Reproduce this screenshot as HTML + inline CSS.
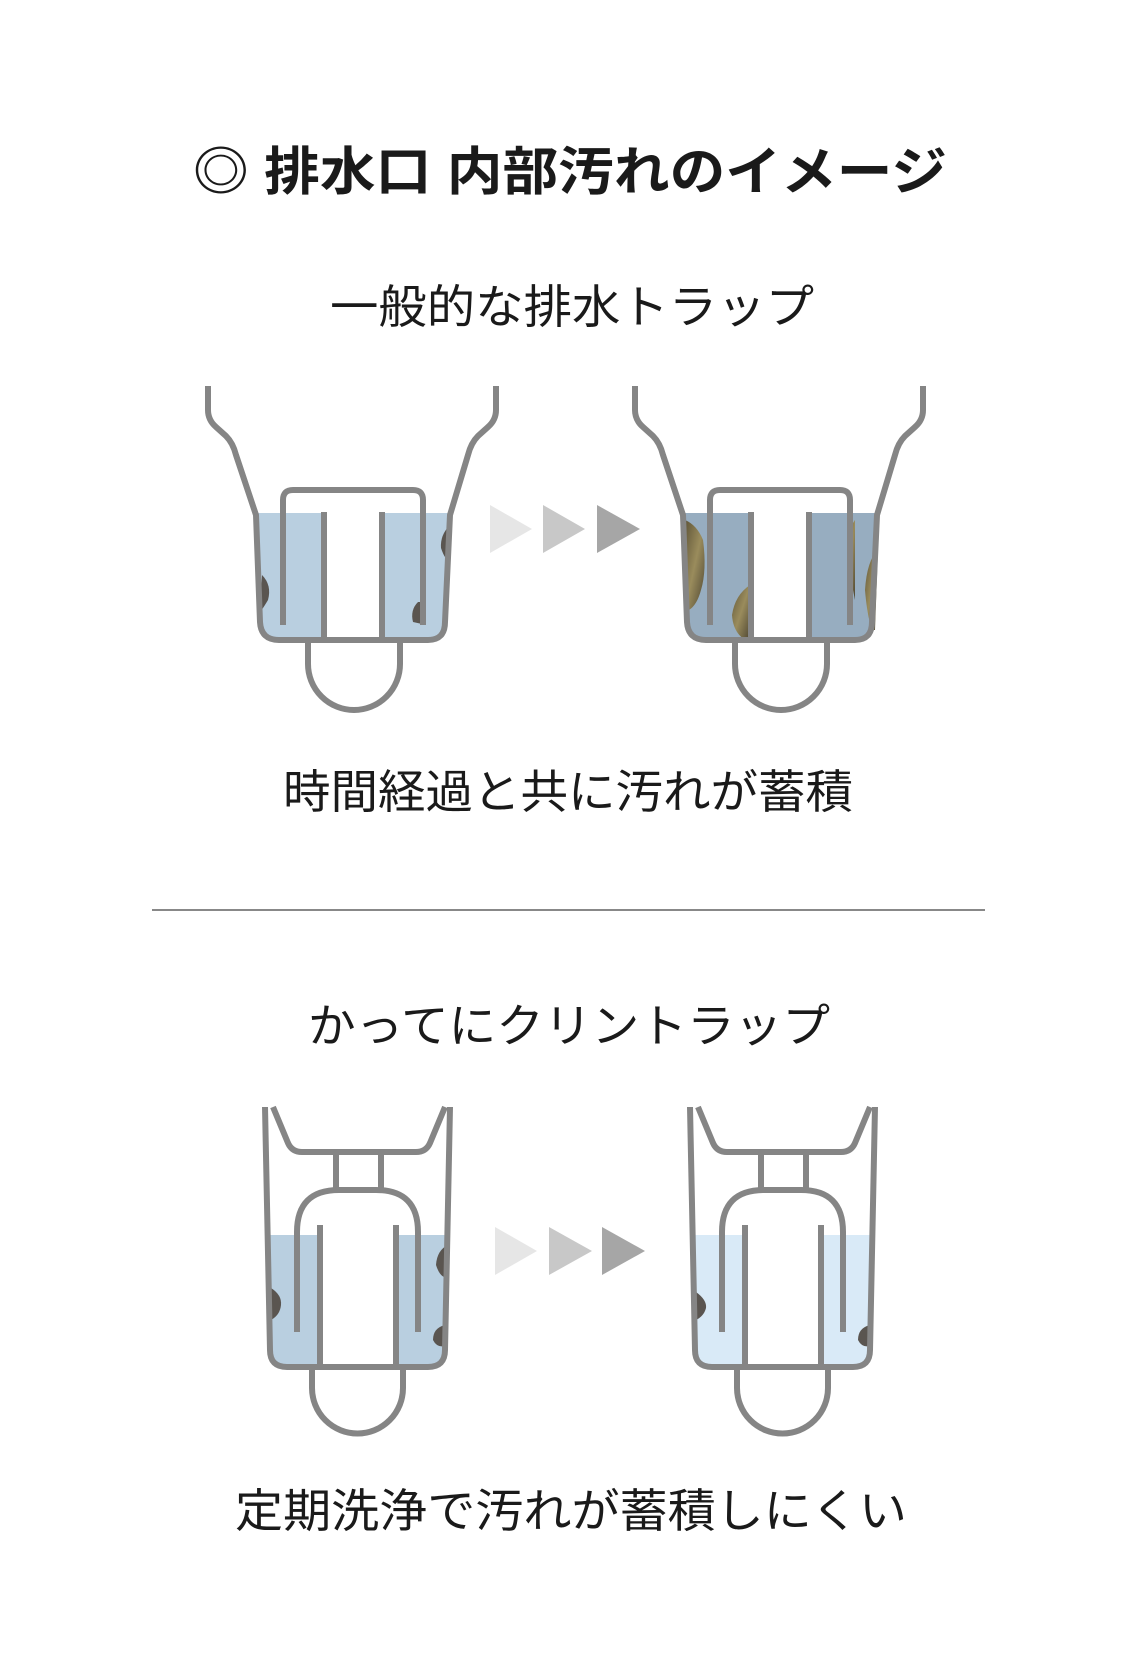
<!DOCTYPE html>
<html><head><meta charset="utf-8"><style>
html,body{margin:0;padding:0;background:#fff;}
svg{display:block;}
text{font-family:"Liberation Sans","Noto Sans CJK JP",sans-serif;fill:#1a1a1a;}
</style></head><body>
<svg width="1136" height="1680" viewBox="0 0 1136 1680" xmlns="http://www.w3.org/2000/svg">
<defs>
<linearGradient id="dirt" x1="0" y1="0" x2="1" y2="1">
<stop offset="0" stop-color="#5e5438"/><stop offset="0.5" stop-color="#9a8c5c"/><stop offset="1" stop-color="#4e4632"/>
</linearGradient>
<g id="trapA">
<path d="M256,515 L451,515 L445,622 Q445,640 428,640 L279,640 Q261,640 260,622 Z" />
</g>
</defs>

<text x="193" y="190" font-size="52" font-weight="bold" textLength="754" lengthAdjust="spacingAndGlyphs">◎ 排水口 内部汚れのイメージ</text>
<text x="330" y="323" font-size="46" textLength="484" lengthAdjust="spacingAndGlyphs">一般的な排水トラップ</text>
<text x="283" y="808" font-size="46" textLength="570" lengthAdjust="spacingAndGlyphs">時間経過と共に汚れが蓄積</text>
<line x1="152" y1="910" x2="985" y2="910" stroke="#888" stroke-width="2"/>
<text x="308" y="1042" font-size="46" textLength="522" lengthAdjust="spacingAndGlyphs">かってにクリントラップ</text>
<text x="235" y="1527" font-size="46" textLength="672" lengthAdjust="spacingAndGlyphs">定期洗浄で汚れが蓄積しにくい</text>

<!-- arrows row 1 -->
<polygon points="490,505 532,529 490,553" fill="#e6e6e6"/>
<polygon points="543,505 585,529 543,553" fill="#c8c8c8"/>
<polygon points="597,505 640,529 597,553" fill="#a6a6a6"/>
<!-- arrows row 2 -->
<polygon points="495,1227 537,1251 495,1275" fill="#e6e6e6"/>
<polygon points="549,1227 592,1251 549,1275" fill="#c8c8c8"/>
<polygon points="602,1227 645,1251 602,1275" fill="#a6a6a6"/>

<!-- Trap 1 -->
<g>
<path d="M256,513 L451,513 L445,622 Q445,640 428,640 L279,640 Q261,640 260,622 Z" fill="#b9cfe0"/>
<rect x="327" y="510" width="52" height="128" fill="#fff"/>
<path d="M262,575 Q272,585 268,600 Q262,610 260,612 Z" fill="#5a5550"/>
<path d="M450,525 Q440,535 441,548 Q445,560 449,560 Z" fill="#5a5550"/>
<path d="M418,602 Q410,610 413,622 L422,624 L422,602 Z" fill="#5a5550"/>
<g fill="none" stroke="#858585" stroke-width="6" stroke-linejoin="round" stroke-linecap="butt">
<path d="M208,386 L208,410 Q208,420 216,427 L226,436 Q233,443 236,455 L256,515 L260,622 Q261,640 279,640 L428,640 Q445,640 445,622 L450,515 L468,455 Q471,443 478,436 L488,427 Q496,420 496,410 L496,386"/>
<path d="M283,625 L283,500 Q283,490 293,490 L413,490 Q423,490 423,500 L423,625"/>
<path d="M324,512 L324,640 M382,512 L382,640"/>
<path d="M308,640 L308,664 A46,46 0 0 0 400,664 L400,640"/>
</g>
</g>

<!-- Trap 2 -->
<g transform="translate(427,0)">
<path d="M256,513 L451,513 L445,622 Q445,640 428,640 L279,640 Q261,640 260,622 Z" fill="#97adc0"/>
<rect x="327" y="510" width="52" height="128" fill="#fff"/>
<path d="M258,520 Q270,525 276,540 Q280,570 274,590 Q270,605 262,610 Z" fill="url(#dirt)"/>
<path d="M323,585 Q308,595 305,615 Q306,632 318,640 L323,640 Z" fill="url(#dirt)"/>
<path d="M428,520 Q420,530 420,560 Q425,585 428,600 Z" fill="url(#dirt)"/>
<path d="M451,550 Q440,560 438,590 Q440,615 445,630 L448,630 Z" fill="url(#dirt)"/>
<g fill="none" stroke="#858585" stroke-width="6" stroke-linejoin="round">
<path d="M208,386 L208,410 Q208,420 216,427 L226,436 Q233,443 236,455 L256,515 L260,622 Q261,640 279,640 L428,640 Q445,640 445,622 L450,515 L468,455 Q471,443 478,436 L488,427 Q496,420 496,410 L496,386"/>
<path d="M283,625 L283,500 Q283,490 293,490 L413,490 Q423,490 423,500 L423,625"/>
<path d="M324,512 L324,640 M382,512 L382,640"/>
<path d="M308,640 L308,664 A46,46 0 0 0 400,664 L400,640"/>
</g>
</g>

<!-- Trap 3 -->
<g>
<path d="M267,1235 L449,1235 L445,1350 Q445,1367 428,1367 L287,1367 Q270,1367 270,1350 Z" fill="#b9cfe0"/>
<rect x="323" y="1225" width="70" height="140" fill="#fff"/>
<path d="M271,1288 Q282,1295 281,1305 Q280,1315 271,1320 Z" fill="#5a5550"/>
<path d="M448,1245 Q437,1250 436,1265 Q440,1278 448,1278 Z" fill="#5a5550"/>
<path d="M445,1325 Q433,1328 433,1340 Q437,1348 445,1346 Z" fill="#5a5550"/>
<g fill="none" stroke="#858585" stroke-width="6" stroke-linejoin="round">
<path d="M265,1107 L270,1350 Q270,1367 287,1367 L428,1367 Q445,1367 445,1350 L450,1107"/>
<path d="M273,1107 L288,1143 Q292,1152 302,1152 L416,1152 Q426,1152 430,1143 L445,1107"/>
<path d="M336,1152 L336,1190 M381,1152 L381,1190"/>
<path d="M297,1332 L297,1232 Q297,1190 339,1190 L376,1190 Q418,1190 418,1232 L418,1332"/>
<path d="M320,1225 L320,1367 M396,1225 L396,1367"/>
<path d="M312,1367 L312,1388 A45.5,45.5 0 0 0 403,1388 L403,1367"/>
</g>
</g>

<!-- Trap 4 -->
<g transform="translate(425,0)">
<path d="M267,1235 L449,1235 L445,1350 Q445,1367 428,1367 L287,1367 Q270,1367 270,1350 Z" fill="#d9eaf7"/>
<rect x="323" y="1225" width="70" height="140" fill="#fff"/>
<path d="M271,1292 Q282,1300 281,1308 Q279,1316 271,1320 Z" fill="#5a5550"/>
<path d="M445,1325 Q433,1328 433,1340 Q437,1348 445,1346 Z" fill="#5a5550"/>
<g fill="none" stroke="#858585" stroke-width="6" stroke-linejoin="round">
<path d="M265,1107 L270,1350 Q270,1367 287,1367 L428,1367 Q445,1367 445,1350 L450,1107"/>
<path d="M273,1107 L288,1143 Q292,1152 302,1152 L416,1152 Q426,1152 430,1143 L445,1107"/>
<path d="M336,1152 L336,1190 M381,1152 L381,1190"/>
<path d="M297,1332 L297,1232 Q297,1190 339,1190 L376,1190 Q418,1190 418,1232 L418,1332"/>
<path d="M320,1225 L320,1367 M396,1225 L396,1367"/>
<path d="M312,1367 L312,1388 A45.5,45.5 0 0 0 403,1388 L403,1367"/>
</g>
</g>
</svg>
</body></html>
